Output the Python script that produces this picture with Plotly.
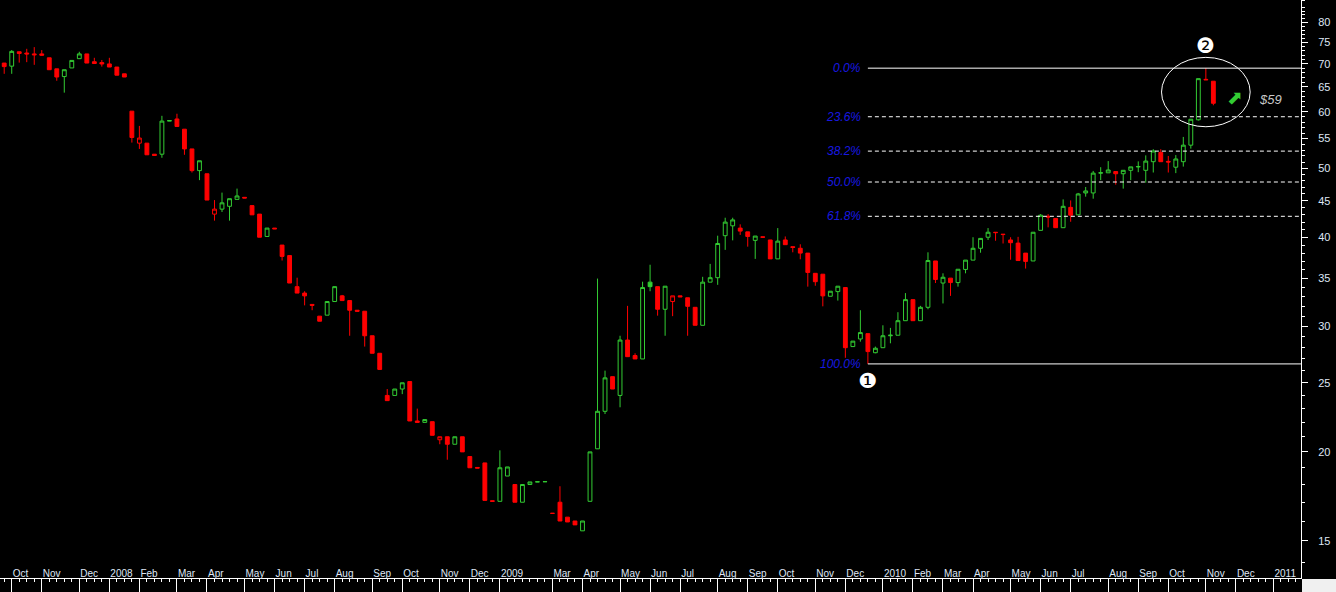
import math
import plotly.graph_objects as go

# ---------------- data (weekly bars) ----------------
open_ = [70.2, 69.5, 72.8, 72.5, 72.3, 72.3, 71.4, 68.9, 67.2, 69.1,
         71.2, 72.3, 70.5, 70.3, 70.0, 69.3, 67.8, 60.1, 54.2, 54.2,
         52.3, 52.3, 58.2, 58.6, 56.7, 53.2, 49.6, 49.1, 43.1, 43.8,
         44.2, 45.2, 45.5, 44.3, 43.1, 40.1, 41.2, 39.0, 37.7, 34.1,
         33.4, 32.2, 31.0, 31.1, 32.5, 33.1, 32.6, 31.6, 31.5, 29.1,
         27.5, 24.0, 24.0, 24.5, 25.1, 22.1, 22.0, 22.05, 20.8, 21.0,
         20.5, 21.0, 19.7, 19.02, 19.3, 17.08, 17.05, 18.5, 18.0, 17.0,
         18.0, 18.15, 18.16, 16.4, 17.0, 16.2, 16.0, 15.5, 17.05, 20.2,
         22.8, 25.5, 24.0, 28.7, 27.3, 27.0, 34.6, 34.1, 31.7, 32.5,
         33.1, 32.9, 31.9, 30.1, 34.6, 35.1, 40.2, 41.5, 41.2, 40.7,
         39.6, 40.05, 39.65, 37.3, 39.65, 38.8, 38.6, 38.0, 35.6, 35.5,
         33.06, 33.56, 34.0, 28.1, 28.8, 29.3, 27.55, 28.0, 29.1, 29.15,
         30.55, 32.7, 30.55, 31.9, 37.05, 34.5, 35.05, 34.55, 36.05, 37.15,
         38.6, 40.0, 40.65, 40.4, 39.65, 39.25, 38.0, 37.05, 40.9, 42.8,
         42.5, 41.25, 44.05, 43.0, 46.15, 46.15, 49.2, 49.25, 49.45, 49.1,
         49.65, 50.2, 49.65, 51.05, 52.6, 51.1, 50.15, 51.05, 53.85, 58.45,
         66.6, 66.2]
high = [70.2, 73.2, 72.8, 73.5, 73.9, 73.2, 71.4, 68.9, 68.7, 70.8,
        72.8, 72.3, 71.4, 70.9, 71.4, 69.3, 67.8, 60.1, 57.3, 54.2,
        52.3, 59.2, 58.3, 59.6, 56.7, 53.2, 51.2, 49.1, 45.1, 46.2,
        45.3, 46.8, 45.5, 44.3, 43.1, 41.2, 41.2, 39.0, 37.7, 35.1,
        33.6, 32.2, 31.0, 32.5, 34.1, 33.2, 32.6, 31.6, 31.5, 29.1,
        27.5, 24.5, 24.5, 25.0, 25.1, 23.0, 22.2, 22.05, 21.0, 21.0,
        21.0, 21.0, 19.7, 19.02, 19.3, 17.08, 20.1, 19.05, 18.0, 18.0,
        18.15, 18.16, 18.17, 16.4, 17.9, 16.2, 16.0, 16.0, 20.0, 35.0,
        26.0, 25.5, 29.1, 32.05, 27.5, 34.65, 36.6, 34.1, 34.15, 33.1,
        33.1, 32.9, 31.9, 35.2, 36.7, 40.2, 42.6, 42.6, 41.7, 40.7,
        40.15, 40.05, 39.65, 41.2, 40.1, 38.8, 39.1, 38.0, 35.6, 35.5,
        33.6, 34.15, 34.0, 28.6, 31.6, 29.3, 28.1, 30.1, 29.85, 31.4,
        33.4, 32.7, 32.05, 38.1, 37.05, 35.6, 35.05, 36.07, 37.15, 40.0,
        39.9, 41.2, 40.65, 40.4, 40.0, 40.05, 38.0, 40.65, 43.1, 43.1,
        42.5, 45.2, 45.05, 46.15, 47.05, 49.55, 50.15, 51.15, 49.45, 49.65,
        50.2, 51.1, 52.1, 53.15, 53.15, 52.0, 52.15, 55.3, 58.55, 66.75,
        69.05, 66.2]
low = [67.8, 67.8, 70.3, 70.4, 69.8, 71.9, 68.7, 66.3, 63.8, 69.1,
       71.2, 70.2, 70.1, 69.4, 69.3, 67.5, 67.1, 54.3, 53.2, 52.2,
       52.1, 51.7, 58.2, 57.2, 52.2, 49.3, 48.1, 45.1, 42.2, 43.4,
       42.2, 45.2, 45.4, 43.0, 40.0, 40.1, 41.1, 37.1, 34.5, 33.4,
       32.1, 31.6, 30.5, 31.1, 32.5, 32.6, 29.1, 31.5, 28.1, 27.5,
       26.1, 23.6, 24.0, 24.1, 22.1, 22.0, 22.0, 21.1, 20.5, 19.5,
       20.5, 20.0, 19.0, 18.98, 17.1, 17.05, 17.05, 18.5, 17.0, 17.0,
       18.0, 18.15, 18.16, 16.4, 16.0, 15.95, 15.8, 15.5, 17.05, 20.2,
       22.6, 24.5, 23.1, 27.2, 27.0, 27.0, 33.6, 31.05, 29.1, 31.0,
       33.0, 29.1, 30.1, 30.1, 34.6, 34.3, 38.4, 39.6, 40.3, 38.8,
       37.3, 40.0, 37.3, 37.3, 39.05, 38.1, 37.25, 34.1, 34.2, 32.0,
       33.06, 32.6, 27.1, 28.1, 28.55, 26.57, 27.5, 28.0, 28.4, 29.15,
       30.55, 30.55, 30.55, 31.7, 34.5, 32.3, 33.1, 34.1, 35.6, 37.15,
       38.05, 39.65, 39.55, 39.2, 37.2, 37.1, 36.15, 37.05, 40.9, 41.3,
       41.25, 41.25, 42.05, 43.0, 45.6, 45.3, 48.1, 49.25, 47.4, 46.8,
       48.1, 49.35, 47.7, 49.3, 51.05, 49.3, 49.2, 50.25, 53.25, 58.3,
       66.5, 61.25]
close = [69.4, 72.9, 72.4, 72.3, 72.1, 72.0, 68.7, 67.1, 68.7, 70.8,
         72.3, 70.2, 70.1, 70.0, 69.3, 67.5, 67.1, 55.2, 55.1, 52.2,
         52.1, 58.2, 58.3, 57.2, 53.2, 49.6, 51.2, 45.1, 43.8, 44.7,
         45.3, 45.7, 45.4, 43.0, 40.0, 41.2, 41.1, 37.6, 34.5, 33.4,
         33.1, 32.1, 30.5, 32.5, 34.1, 32.6, 31.6, 31.5, 29.1, 27.5,
         26.1, 23.6, 24.5, 25.0, 22.1, 22.0, 22.2, 21.1, 21.0, 20.5,
         21.0, 20.0, 19.0, 18.98, 17.1, 17.05, 19.0, 19.05, 17.0, 18.0,
         18.15, 18.16, 18.17, 16.4, 16.0, 15.95, 15.8, 16.0, 20.0, 22.8,
         25.4, 24.5, 28.7, 27.2, 27.0, 34.0, 34.1, 31.7, 34.15, 33.1,
         33.0, 32.0, 30.1, 34.6, 35.1, 39.2, 42.0, 42.3, 40.8, 40.1,
         40.15, 40.0, 37.3, 39.5, 39.05, 38.7, 38.0, 35.7, 34.65, 33.1,
         33.6, 34.15, 28.0, 28.6, 29.4, 27.65, 27.95, 29.1, 29.15, 30.55,
         32.7, 30.55, 31.9, 37.1, 34.9, 35.15, 34.55, 36.07, 37.15, 38.6,
         39.85, 40.65, 40.6, 40.35, 39.3, 37.1, 37.0, 40.65, 42.95, 42.7,
         41.25, 44.2, 42.95, 46.0, 46.45, 49.2, 49.25, 49.7, 49.1, 49.65,
         50.2, 50.25, 51.15, 52.85, 51.05, 51.0, 51.5, 53.85, 58.55, 66.75,
         66.5, 61.65]

month_tick_bars = [1, 5, 10, 14, 18, 23, 27, 32, 36, 40, 44, 49, 53, 58, 62,
                   66, 73, 77, 82, 86, 90, 95, 99, 103, 108, 112,
                   117, 121, 125, 129, 134, 138, 142, 147, 151, 155, 160, 164, 169]
month_tick_labels = ["Oct", "Nov", "Dec", "2008", "Feb", "Mar", "Apr", "May", "Jun",
                     "Jul", "Aug", "Sep", "Oct", "Nov", "Dec",
                     "2009", "Mar", "Apr", "May", "Jun", "Jul", "Aug", "Sep", "Oct",
                     "Nov", "Dec",
                     "2010", "Feb", "Mar", "Apr", "May", "Jun", "Jul", "Aug", "Sep",
                     "Oct", "Nov", "Dec", "2011"]
price_ticks = [15, 20, 25, 30, 35, 40, 45, 50, 55, 60, 65, 70, 75, 80]
price_tick_labels = [str(v) for v in price_ticks]
minor_price_ticks = [v for v in range(14, 87) if v % 5 != 0]

fib_ratios = [0.0, 0.236, 0.382, 0.5, 0.618, 1.0]
fib_labels = ["0.0%", "23.6%", "38.2%", "50.0%", "61.8%", "100.0%"]
swing_low_bar = 115
swing_high_bar = 160
target_label = "$59"

# ---------------- styling ----------------
GREEN = "#33cc33"
RED = "#ff0000"
BLUE = "#1818e0"
AXIS_TXT = "#dfe6f5"
X_RANGE = [-0.56, 172.67]
Y_RANGE = [math.log10(13.31), math.log10(86.05)]

n = len(close)
bars = list(range(n))

groups = {"ug": [], "dg": [], "ur": [], "dr": []}
for i in bars:
    prev = close[i - 1] if i > 0 else open_[i]
    green = close[i] > prev
    hollow = close[i] >= open_[i]
    key = ("u" if hollow else "d") + ("g" if green else "r")
    groups[key].append(i)

styles = {
    "ug": (GREEN, "#000000"),
    "dg": (GREEN, GREEN),
    "ur": (RED, "#000000"),
    "dr": (RED, RED),
}

fig = go.Figure()
for key, idx in groups.items():
    if not idx:
        continue
    col, fill = styles[key]
    side = dict(line=dict(color=col, width=1), fillcolor=fill)
    fig.add_trace(go.Candlestick(
        x=[bars[i] for i in idx],
        open=[open_[i] for i in idx],
        high=[high[i] for i in idx],
        low=[low[i] for i in idx],
        close=[close[i] for i in idx],
        increasing=side, decreasing=side,
        whiskerwidth=0, showlegend=False, hoverinfo="skip",
    ))

# Fibonacci retracement levels
fib_hi = high[swing_high_bar]
fib_lo = low[swing_low_bar]
shapes = []
annotations = []
for r, lab in zip(fib_ratios, fib_labels):
    lvl = fib_hi - r * (fib_hi - fib_lo)
    solid = r in (0.0, 1.0)
    shapes.append(dict(type="line", xref="x", yref="y",
                       x0=swing_low_bar, x1=X_RANGE[1], y0=lvl, y1=lvl,
                       line=dict(color="white", width=1,
                                 dash="solid" if solid else "4px,3px")))
    annotations.append(dict(xref="x", yref="y", x=swing_low_bar, y=math.log10(lvl),
                            text="<i>" + lab + "</i>", showarrow=False,
                            xanchor="right", yanchor="middle", xshift=-5,
                            font=dict(color=BLUE, size=12,
                                      family="Liberation Sans, Arial, sans-serif")))

# ellipse around the top
shapes.append(dict(type="circle", xref="x", yref="y",
                   x0=154.1, x1=165.9, y0=57.15, y1=71.5,
                   line=dict(color="white", width=1)))

# light corner box below the price axis (pixel sized, anchored at the plot corner)
shapes.append(dict(type="rect", xref="paper", yref="paper",
                   xsizemode="pixel", ysizemode="pixel", xanchor=1, yanchor=0,
                   x0=1, x1=40, y0=-1, y1=-20,
                   line=dict(width=0), fillcolor="#f0f0f0", layer="above"))

# swing markers
annotations.append(dict(xref="x", yref="y", x=swing_low_bar, y=math.log10(25.15),
                        text="\u2776", showarrow=False,
                        font=dict(color="white", size=21, family="DejaVu Sans")))
annotations.append(dict(xref="x", yref="y", x=swing_high_bar, y=math.log10(74.2),
                        text="\u2777", showarrow=False,
                        font=dict(color="white", size=21, family="DejaVu Sans")))
# green arrow
annotations.append(dict(xref="x", yref="y", x=163.9, y=math.log10(62.9),
                        text="\u2b08", showarrow=False,
                        xanchor="center", yanchor="middle",
                        font=dict(color=GREEN, size=19, family="DejaVu Sans")))
annotations.append(dict(xref="x", yref="y", x=166.8, y=math.log10(62.5),
                        text="<i>" + target_label + "</i>", showarrow=False,
                        xanchor="left", yanchor="middle",
                        font=dict(color="#c8c8c8", size=13,
                                  family="Liberation Sans, Arial, sans-serif")))

fig.update_layout(
    width=1336, height=592,
    margin=dict(l=0, r=35, t=0, b=14),
    paper_bgcolor="black", plot_bgcolor="black",
    showlegend=False, boxgap=0.27,
    shapes=shapes, annotations=annotations,
    font=dict(family="Liberation Sans, Arial, sans-serif", size=11, color=AXIS_TXT),
    xaxis=dict(range=X_RANGE, showgrid=False, zeroline=False,
               showline=True, linecolor="white", linewidth=1,
               ticks="outside", ticklen=14, tickwidth=1, tickcolor="white",
               tickmode="array", tickvals=month_tick_bars, ticktext=month_tick_labels,
               tickangle=0,
               ticklabelposition="outside right", ticklabelstandoff=-14,
               tickfont=dict(size=10, color=AXIS_TXT),
               minor=dict(tick0=0, dtick=1, ticks="outside", ticklen=3,
                          tickcolor="white", tickwidth=1, showgrid=False),
               rangeslider=dict(visible=False), fixedrange=True),
    yaxis=dict(type="log", side="right", range=Y_RANGE, showgrid=False,
               zeroline=False, showline=True, linecolor="white", linewidth=1,
               ticks="outside", ticklen=6, tickwidth=1, tickcolor="white",
               tickmode="array", tickvals=price_ticks, ticktext=price_tick_labels,
               ticklabelstandoff=8,
               tickfont=dict(size=11, color=AXIS_TXT),
               minor=dict(tickmode="array", tickvals=minor_price_ticks,
                          ticks="outside", ticklen=3, tickcolor="white",
                          tickwidth=1, showgrid=False),
               fixedrange=True),
)

fig.write_html("out.html", config={"displayModeBar": False},
               post_script="document.body.style.margin='0';document.body.style.overflow='hidden';")
